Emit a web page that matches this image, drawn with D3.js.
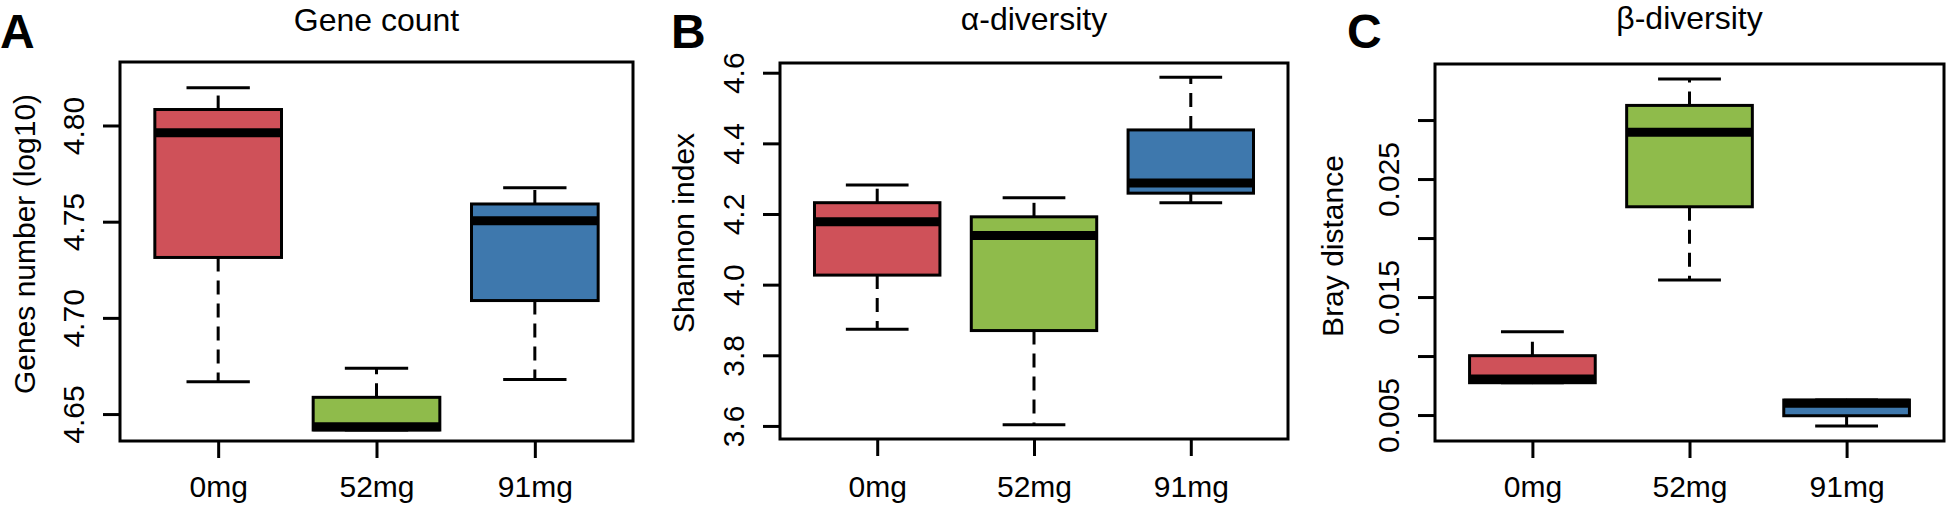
<!DOCTYPE html>
<html>
<head>
<meta charset="utf-8">
<script src="https://cdn.jsdelivr.net/npm/d3@7"></script>
<style>
  body { margin: 0; background: #fff; }
  text { font-family: "Liberation Sans", Arial, Helvetica, sans-serif; fill: #000; }
</style>
</head>
<body>
<script>
// groups shared by all three panels
var groups = ["0mg", "52mg", "91mg"];
var groupColors = ["#CF5159", "#8FBB4B", "#3E78AD"];

// five numbers per group: lower whisker, q1, median, q3, upper whisker
var geneCount = [
  [4.6668, 4.7314, 4.7962, 4.8083, 4.8196],
  [4.6417, 4.6417, 4.6434, 4.6587, 4.6738],
  [4.6680, 4.7090, 4.7505, 4.7592, 4.7676]
];
var shannon = [
  [3.874, 4.027, 4.178, 4.232, 4.282],
  [3.603, 3.870, 4.139, 4.192, 4.246],
  [4.232, 4.259, 4.288, 4.438, 4.587]
];
var bray = [
  [0.00774, 0.00774, 0.00805, 0.01003, 0.01206],
  [0.01644, 0.02265, 0.02896, 0.03124, 0.03347],
  [0.00407, 0.00494, 0.00599, 0.00627, 0.00627]
];

// y ticks and their labels ("" = tick without label)
var geneTicks = [4.65, 4.70, 4.75, 4.80];
var geneLabels = ["4.65", "4.70", "4.75", "4.80"];
var shannonTicks = [3.6, 3.8, 4.0, 4.2, 4.4, 4.6];
var shannonLabels = ["3.6", "3.8", "4.0", "4.2", "4.4", "4.6"];
var brayTicks = [0.005, 0.010, 0.015, 0.020, 0.025, 0.030];
var brayLabels = ["0.005", "", "0.015", "", "0.025", ""];

var panels = [
  { tag: "A", title: "Gene count", ylab: "Genes number (log10)", data: geneCount,
    ticks: geneTicks, labels: geneLabels, ylim: [4.636, 4.833],
    box: [120, 62, 633, 441], tagX: 0, titleY: 31, ylabX: 35, ylabY: 244 },
  { tag: "B", title: "\u03b1-diversity", ylab: "Shannon index", data: shannon,
    ticks: shannonTicks, labels: shannonLabels, ylim: [3.563, 4.6275],
    box: [780, 63, 1288, 439], tagX: 671, titleY: 30, ylabX: 694, ylabY: 233 },
  { tag: "C", title: "\u03b2-diversity", ylab: "Bray distance", data: bray,
    ticks: brayTicks, labels: brayLabels, ylim: [0.0028, 0.03475],
    box: [1435, 64, 1944, 441], tagX: 1347, titleY: 29, ylabX: 1343, ylabY: 246 }
];

var svg = d3.select("body").append("svg")
    .attr("width", 1946)
    .attr("height", 508);

svg.append("rect")
    .attr("width", 1946)
    .attr("height", 508)
    .attr("fill", "#fff");

panels.forEach(function(p) {
  var left = p.box[0], top = p.box[1], right = p.box[2], bottom = p.box[3];

  var x = d3.scaleLinear().domain([0.38, 3.62]).range([left, right]);
  var y = d3.scaleLinear().domain(p.ylim).range([bottom, top]);

  var g = svg.append("g");

  // boxes, R style: whiskers first, then staples, box and median
  p.data.forEach(function(d, i) {
    var c = i + 1;
    g.append("line")
        .attr("x1", x(c)).attr("x2", x(c))
        .attr("y1", y(d[3])).attr("y2", y(d[4]))
        .attr("stroke", "#000").attr("stroke-width", 3)
        .attr("stroke-dasharray", "14,9");
    g.append("line")
        .attr("x1", x(c)).attr("x2", x(c))
        .attr("y1", y(d[1])).attr("y2", y(d[0]))
        .attr("stroke", "#000").attr("stroke-width", 3)
        .attr("stroke-dasharray", "14,9");
    [d[0], d[4]].forEach(function(v) {
      g.append("line")
          .attr("x1", x(c - 0.2)).attr("x2", x(c + 0.2))
          .attr("y1", y(v)).attr("y2", y(v))
          .attr("stroke", "#000").attr("stroke-width", 3);
    });
    g.append("rect")
        .attr("x", x(c - 0.4))
        .attr("y", y(d[3]))
        .attr("width", x(c + 0.4) - x(c - 0.4))
        .attr("height", y(d[1]) - y(d[3]))
        .attr("fill", groupColors[i])
        .attr("stroke", "#000").attr("stroke-width", 3);
    g.append("line")
        .attr("x1", x(c - 0.4)).attr("x2", x(c + 0.4))
        .attr("y1", y(d[2])).attr("y2", y(d[2]))
        .attr("stroke", "#000").attr("stroke-width", 9);
  });

  // frame
  g.append("rect")
      .attr("x", left).attr("y", top)
      .attr("width", right - left).attr("height", bottom - top)
      .attr("fill", "none")
      .attr("stroke", "#000").attr("stroke-width", 3);

  // y axis
  var yAxis = g.append("g")
      .attr("transform", "translate(" + left + ",0)")
      .call(d3.axisLeft(y).tickValues(p.ticks).tickSize(17)
        .tickFormat(function(d, i) { return p.labels[i]; }));
  yAxis.select(".domain").remove();
  yAxis.selectAll(".tick line").attr("stroke", "#000").attr("stroke-width", 3);
  yAxis.selectAll(".tick text")
      .attr("transform", "rotate(-90)")
      .attr("x", 0).attr("y", -36).attr("dy", null)
      .attr("text-anchor", "middle")
      .attr("font-size", 30)
      .attr("font-family", null);

  // x axis
  var xAxis = g.append("g")
      .attr("transform", "translate(0," + bottom + ")")
      .call(d3.axisBottom(x).tickValues([1, 2, 3]).tickSize(17)
        .tickFormat(function(d) { return groups[d - 1]; }));
  xAxis.select(".domain").remove();
  xAxis.selectAll(".tick line").attr("stroke", "#000").attr("stroke-width", 3);
  xAxis.selectAll(".tick text")
      .attr("y", 497 - bottom).attr("dy", null)
      .attr("font-size", 30)
      .attr("font-family", null);

  // titles
  svg.append("text")
      .text(p.title)
      .attr("x", (left + right) / 2)
      .attr("y", p.titleY)
      .attr("text-anchor", "middle")
      .attr("font-size", 32);

  svg.append("text")
      .text(p.ylab)
      .attr("transform", "translate(" + p.ylabX + "," + p.ylabY + ") rotate(-90)")
      .attr("text-anchor", "middle")
      .attr("font-size", 30);

  svg.append("text")
      .text(p.tag)
      .attr("x", p.tagX)
      .attr("y", 48)
      .attr("font-size", 48)
      .attr("font-weight", "bold");
});
</script>
</body>
</html>
